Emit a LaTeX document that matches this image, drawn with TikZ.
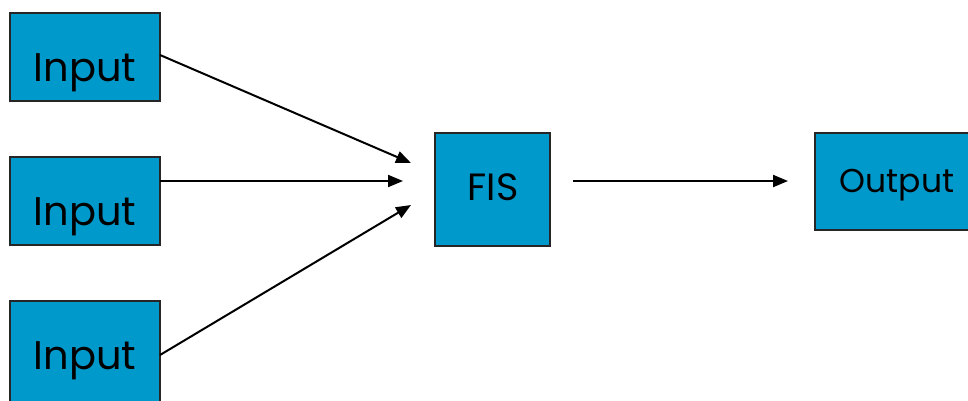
\documentclass[tikz,border=0pt]{standalone}
\usepackage{fontspec}
\setmainfont{Poppins}
\usetikzlibrary{arrows.meta}
\definecolor{boxblue}{RGB}{0,153,204}
\begin{document}
\begin{tikzpicture}[x=1pt,y=-1pt,
  blk/.style={draw=black!85,line width=1.2pt,fill=boxblue,inner sep=0pt,outer sep=0pt},
  lbl/.style={inner sep=0pt,font=\fontsize{40}{40}\selectfont},
  conn/.style={line width=2pt,-{Triangle[length=15pt,width=12pt]}}]
\useasboundingbox (0,0) rectangle (968,400);
% boxes
\node[blk,minimum width=150pt,minimum height=88pt] (in1) at (85,57) {};
\node[blk,minimum width=150pt,minimum height=88pt] (in2) at (85,201) {};
\node[blk,minimum width=150pt,minimum height=106pt] (in3) at (85,354) {};
\node[blk,minimum width=115pt,minimum height=113pt] (fis) at (492.5,189.5) {};
\node[blk,minimum width=160pt,minimum height=97pt] (out) at (895,181.5) {};
% labels
\node[lbl,anchor=base] (t1) at (85,81) {Input};
\node[lbl,anchor=base] (t2) at (85,225) {Input};
\node[lbl,anchor=base] (t3) at (85,369) {Input};
\node[lbl,anchor=base,font=\fontsize{38}{38}\selectfont] (tf) at (493,200) {FIS};
\node[lbl,anchor=base,font=\fontsize{33}{33}\selectfont] (to) at (897,192) {Output};
% connector endpoints
\coordinate (s1) at (160,55);
\coordinate (s2) at (160,181);
\coordinate (s3) at (160,355);
\coordinate (e1) at (411,163);
\coordinate (e2) at (403,181);
\coordinate (e3) at (411,205);
\coordinate (s4) at (573,181);
\coordinate (e4) at (788,181);
\draw[conn] (s1) -- (e1);
\draw[conn] (s2) -- (e2);
\draw[conn] (s3) -- (e3);
\draw[conn] (s4) -- (e4);
\end{tikzpicture}
\end{document}
